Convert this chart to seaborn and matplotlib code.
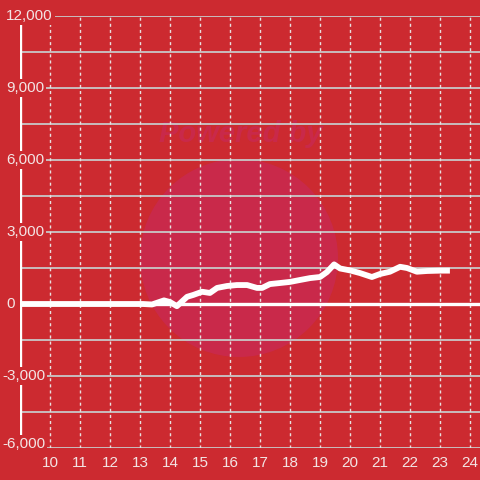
import matplotlib
matplotlib.use("Agg")
import matplotlib.pyplot as plt
import matplotlib.transforms as mtransforms
import seaborn as sns
import pandas as pd
from matplotlib.patches import Circle

# ---- data ----
hours = [9.0, 13.1, 13.4, 13.8, 14.0, 14.23, 14.57, 14.77, 15.07, 15.33, 15.57,
         15.9, 16.23, 16.57, 16.9, 17.07, 17.33, 17.67, 18.0, 18.33, 18.67, 19.0,
         19.23, 19.47, 19.67, 20.0, 20.33, 20.73, 21.0, 21.33, 21.67, 21.9, 22.23,
         22.57, 23.0, 23.33]
values = [0, 0, -20, 150, 80, -90, 300, 375, 510, 460, 670,
          750, 790, 790, 670, 670, 830, 875, 920, 1000, 1080, 1125,
          1330, 1650, 1480, 1400, 1290, 1125, 1250, 1345, 1550, 1500, 1345,
          1375, 1390, 1390]
x_ticks = list(range(10, 25))
x_tick_labels = [str(v) for v in x_ticks]
y_ticks = [12000, 9000, 6000, 3000, 0, -3000, -6000]
y_tick_labels = ["12,000", "9,000", "6,000", "3,000", "0", "-3,000", "-6,000"]
y_grid = [12000, 10500, 9000, 7500, 6000, 4500, 3000, 1500, -1500, -3000, -4500, -6000]

BG = "#cc2a30"
TXT = "#f3e4e4"
GRID = "#c8c8c8"
WM = "#c9294a"

sns.set_style("white", {"axes.facecolor": "none", "figure.facecolor": BG})
plt.rcParams["font.family"] = ["Liberation Sans", "DejaVu Sans"]

fig = plt.figure(figsize=(4.8, 4.8), dpi=100, facecolor=BG)
ax = fig.add_axes([20 / 480, 32 / 480, 460 / 480, 432 / 480])
ax.set_facecolor("none")

# watermark
ax.add_patch(Circle((239 / 480, 1 - 258 / 480), 99 / 480, transform=fig.transFigure,
                    facecolor=WM, edgecolor="none", zorder=0.2, clip_on=False))
ax.text(241 / 480, 1 - 134 / 480, "Powered by", color=WM, fontsize=21,
        fontweight="bold", fontstyle="italic", ha="center", va="center",
        transform=fig.transFigure, zorder=0.2)

ax.set_xlim(9, 24.333)
ax.set_ylim(-6000, 12000)

# grid
for g in y_grid:
    ax.axhline(g, color=GRID, lw=1.3, zorder=1)
for t in x_ticks:
    ax.axvline(t, color="#e8e0e0", lw=1.0, ls=(0, (2.2, 2.2)), zorder=1)
ax.axhline(0, color="white", lw=2.4, zorder=2)
ax.axvline(9, color="white", lw=2.4, zorder=2)

df = pd.DataFrame({"hour": hours, "value": values})
sns.lineplot(data=df, x="hour", y="value", ax=ax, color="white", lw=4.2,
             zorder=3, solid_capstyle="butt", solid_joinstyle="round")

for s in ax.spines.values():
    s.set_visible(False)
ax.set_xlabel("")
ax.set_ylabel("")
ax.set_yticks([])
ax.set_xticks(x_ticks)
ax.set_xticklabels(x_tick_labels, color=TXT, fontsize=11)
ax.tick_params(axis="x", length=0, pad=6)

trans = mtransforms.blended_transform_factory(fig.transFigure, ax.transData)
for v, lab in zip(y_ticks, y_tick_labels):
    xpx = 2 if v < 0 else 6
    va = "baseline" if v == y_ticks[-1] else "center"
    ax.text(xpx / 480, v, lab, transform=trans, color=TXT,
            fontsize=11, ha="left", va=va, zorder=5, clip_on=False,
            bbox=dict(facecolor=BG, edgecolor="none", pad=1.5))

fig.savefig("out.png", dpi=100, facecolor=BG)
